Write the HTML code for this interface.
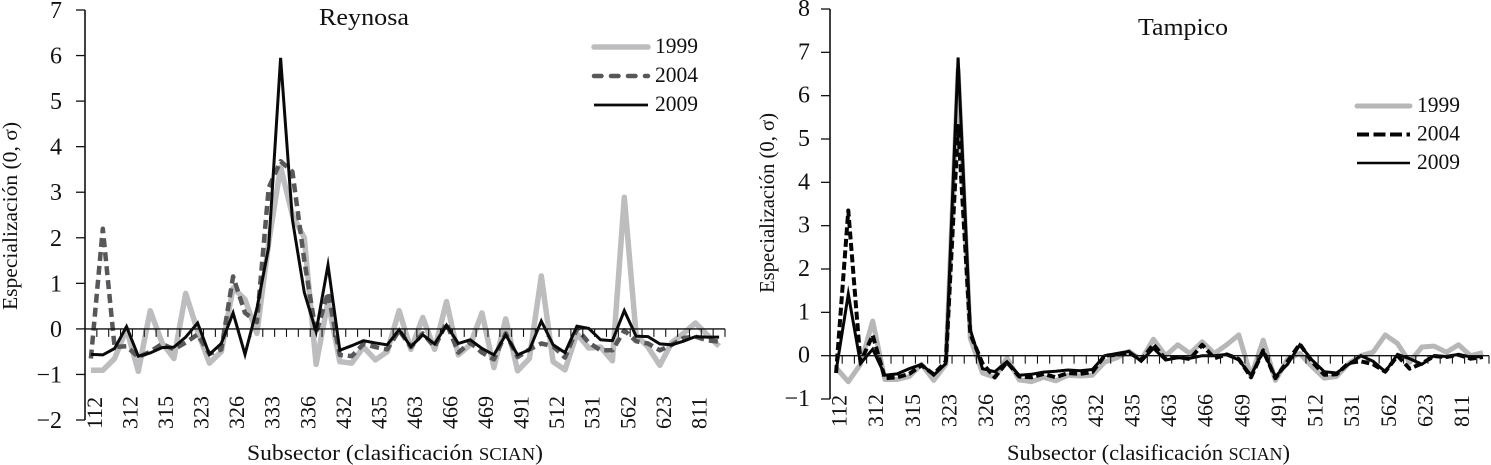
<!DOCTYPE html>
<html lang="es">
<head>
<meta charset="utf-8">
<title>Especialización: Reynosa y Tampico</title>
<style>
html,body{margin:0;padding:0;background:#fff;width:1491px;height:465px;overflow:hidden}
svg{display:block}
text{font-family:"Liberation Serif","DejaVu Serif",serif;fill:#111}
</style>
</head>
<body>
<svg id="fig" xmlns="http://www.w3.org/2000/svg" width="1491" height="465" viewBox="0 0 1491 465">
  <g id="chart-reynosa">
    <text x="319" y="25" font-size="24" textLength="90" lengthAdjust="spacingAndGlyphs">Reynosa</text>
    <text transform="translate(17,310) rotate(-90)" font-size="21" textLength="188" lengthAdjust="spacingAndGlyphs">Especialización (0, σ)</text>
    <text x="247" y="460" font-size="22" textLength="296" lengthAdjust="spacingAndGlyphs">Subsector (clasificación <tspan font-size="17.5">SCIAN</tspan>)</text>
  </g>
  <g id="chart-tampico">
    <text x="1138" y="35" font-size="24" textLength="90" lengthAdjust="spacingAndGlyphs">Tampico</text>
    <text transform="translate(774,293) rotate(-90)" font-size="21" textLength="180" lengthAdjust="spacingAndGlyphs">Especialización (0, σ)</text>
    <text x="1007" y="460" font-size="22" textLength="283" lengthAdjust="spacingAndGlyphs">Subsector (clasificación <tspan font-size="17.5">SCIAN</tspan>)</text>
  </g>
</svg>
<script>
var subsectorLabels = ["112","312","315","323","326","333","336","432","435","463","466","469","491","512","531","562","623","811"];
var seriesYears = ["1999","2004","2009"];

var reynosaYTicks = [7,6,5,4,3,2,1,0,-1,-2];
var reynosa1999 = [-0.91,-0.91,-0.65,0.0,-0.93,0.4,-0.3,-0.65,0.78,-0.05,-0.75,-0.5,0.9,0.65,-0.1,1.9,3.55,2.5,2.0,-0.78,0.6,-0.72,-0.75,-0.4,-0.68,-0.5,0.4,-0.45,0.25,-0.45,0.6,-0.57,-0.35,0.35,-0.85,0.22,-0.92,-0.65,1.16,-0.72,-0.9,-0.1,-0.42,-0.4,-0.7,2.89,-0.13,-0.4,-0.8,-0.3,-0.1,0.13,-0.13,-0.38];
var reynosa2004 = [-0.65,2.2,-0.4,-0.38,-0.62,-0.5,-0.33,-0.45,-0.3,-0.12,-0.55,-0.45,1.15,0.35,0.15,3.1,3.68,3.45,1.5,-0.1,0.8,-0.57,-0.6,-0.33,-0.4,-0.45,-0.03,-0.4,-0.1,-0.4,0.13,-0.52,-0.3,-0.52,-0.67,-0.1,-0.62,-0.45,-0.32,-0.38,-0.63,0.0,-0.3,-0.47,-0.47,-0.03,-0.27,-0.32,-0.47,-0.35,-0.2,-0.17,-0.25,-0.28];
var reynosa2009 = [-0.56,-0.57,-0.43,0.05,-0.6,-0.53,-0.41,-0.4,-0.18,0.13,-0.56,-0.32,0.35,-0.56,0.45,1.8,5.95,2.4,0.8,-0.06,1.4,-0.47,-0.37,-0.26,-0.31,-0.35,-0.02,-0.39,-0.13,-0.33,0.08,-0.32,-0.24,-0.43,-0.57,-0.13,-0.57,-0.46,0.17,-0.35,-0.52,0.06,0.01,-0.24,-0.26,0.4,-0.16,-0.17,-0.33,-0.35,-0.27,-0.17,-0.18,-0.18];

var tampicoYTicks = [8,7,6,5,4,3,2,1,0,-1];
var tampico1999 = [-0.28,-0.6,-0.2,0.8,-0.55,-0.55,-0.48,-0.2,-0.57,-0.2,6.6,0.4,-0.4,-0.5,-0.05,-0.56,-0.6,-0.5,-0.58,-0.45,-0.47,-0.45,-0.15,-0.05,0.1,-0.1,0.38,0.0,0.25,0.05,0.32,0.05,0.25,0.48,-0.48,0.36,-0.57,-0.08,0.05,-0.25,-0.52,-0.48,-0.18,0.0,0.08,0.48,0.28,-0.15,0.2,0.22,0.08,0.25,0.0,0.07];
var tampico2004 = [-0.4,3.35,-0.15,0.47,-0.52,-0.5,-0.42,-0.22,-0.43,-0.13,5.3,0.5,-0.18,-0.5,-0.15,-0.48,-0.5,-0.42,-0.5,-0.4,-0.42,-0.38,0.0,0.02,0.07,-0.1,0.26,-0.08,-0.03,-0.08,0.25,-0.06,0.03,-0.08,-0.5,0.12,-0.52,-0.13,0.27,-0.14,-0.44,-0.43,-0.17,-0.13,-0.2,-0.37,0.0,-0.3,-0.18,-0.01,-0.03,0.02,-0.07,-0.03];
var tampico2009 = [-0.35,1.42,-0.18,0.15,-0.45,-0.42,-0.3,-0.2,-0.45,-0.18,6.88,0.6,-0.3,-0.37,-0.14,-0.45,-0.43,-0.38,-0.36,-0.33,-0.35,-0.32,0.0,0.05,0.1,-0.13,0.17,-0.1,-0.05,-0.06,0.0,0.0,0.03,-0.1,-0.45,0.1,-0.48,-0.2,0.25,-0.1,-0.37,-0.4,-0.2,0.0,-0.13,-0.37,0.03,-0.07,-0.2,0.0,-0.02,0.03,-0.03,-0.02];

function addSvgNode(parent, tag, attrs, txt) {
  var el = document.createElementNS(parent.namespaceURI, tag);
  for (var k in attrs) el.setAttribute(k, attrs[k]);
  if (txt !== undefined) el.textContent = txt;
  parent.appendChild(el);
  return el;
}

function drawSpecChart(rootId, prefix, frame, yTicks, seriesList, styles, legend) {
  var root = document.getElementById(rootId);
  var yMax = yTicks[0];
  var yMin = yTicks[yTicks.length - 1];
  var n = seriesList[0].length;
  var band = (frame.right - frame.left) / n;
  function xScale(i) { return frame.left + (i + 0.5) * band; }
  function yScale(v) { return frame.top + (yMax - v) * (frame.bottom - frame.top) / (yMax - yMin); }

  seriesList.forEach(function (vals, s) {
    var st = styles[s];
    var pts = vals.map(function (v, i) { return xScale(i).toFixed(1) + ',' + yScale(v).toFixed(1); }).join(' ');
    var line = addSvgNode(root, 'polyline', {
      points: pts, fill: 'none', stroke: st.color, 'stroke-width': st.width,
      'stroke-linejoin': st.join, 'stroke-miterlimit': 8,
      'stroke-dasharray': st.dash || 'none', 'stroke-linecap': st.cap || 'butt'
    });
    
    
  });

  var yAxis = addSvgNode(root, 'line', {x1: frame.left, x2: frame.left, y1: frame.top, y2: frame.bottom, stroke: '#111', 'stroke-width': 1.6});
  
  
  yTicks.forEach(function (v) {
    var y = yScale(v);
    var tick = addSvgNode(root, 'line', {x1: frame.left - 9, x2: frame.left, y1: y, y2: y, stroke: '#111', 'stroke-width': 1.3});
    
    
    var label = addSvgNode(root, 'text', {x: frame.left - frame.yLabelGap, y: y + frame.yLabelDy, 'font-size': 24, 'text-anchor': 'end'}, v < 0 ? '\u2212' + (-v) : String(v));
    
    
  });

  var y0 = yScale(0);
  var xAxis = addSvgNode(root, 'line', {x1: frame.left, x2: frame.right, y1: y0, y2: y0, stroke: '#111', 'stroke-width': 1.4});
  
  
  for (var k = 1; k <= n; k++) {
    var tx = frame.left + k * band;
    var xTick = addSvgNode(root, 'line', {x1: tx, x2: tx, y1: y0, y2: y0 + 8, stroke: '#111', 'stroke-width': 1.1});
    
    
  }
  subsectorLabels.forEach(function (lab, j) {
    var x = xScale(j * 3) + frame.xLabelDx;
    var t = addSvgNode(root, 'text', {transform: 'translate(' + x.toFixed(1) + ',' + frame.xLabelBottom + ') rotate(-90)', 'font-size': 22}, lab);
    
    
  });

  seriesYears.forEach(function (yr, s) {
    var st = styles[s];
    var y = legend.y + s * legend.step;
    var key = addSvgNode(root, 'line', {
      x1: legend.x1, x2: legend.x2, y1: y, y2: y, stroke: st.color, 'stroke-width': st.legendWidth,
      'stroke-dasharray': st.legendDash || 'none', 'stroke-linecap': st.legendCap
    });
    
    
    var legendLabel = addSvgNode(root, 'text', {x: legend.x2 + 7, y: y + 6, 'font-size': 22, textLength: 43, lengthAdjust: 'spacingAndGlyphs'}, yr);
    
    
  });
}

drawSpecChart('chart-reynosa', 'reynosa',
  {left: 85, right: 725, top: 10, bottom: 420, yLabelGap: 23, yLabelDy: 8, xLabelDx: 11, xLabelBottom: 429},
  reynosaYTicks,
  [reynosa1999, reynosa2004, reynosa2009],
  [
    {color: '#bdbdc0', width: 5.5, join: 'round', legendWidth: 5.5, legendCap: 'round'},
    {color: '#58585a', width: 4.5, join: 'round', dash: '9 5', legendWidth: 4.5, legendDash: '7.5 9.5', legendCap: 'round'},
    {color: '#0a0a0a', width: 3, join: 'miter', legendWidth: 2.8, legendCap: 'butt'}
  ],
  {x1: 594, x2: 648, y: 47, step: 29}
);

drawSpecChart('chart-tampico', 'tampico',
  {left: 830, right: 1489, top: 9, bottom: 399, yLabelGap: 20, yLabelDy: 7, xLabelDx: 10.5, xLabelBottom: 427},
  tampicoYTicks,
  [tampico1999, tampico2004, tampico2009],
  [
    {color: '#b7b7b7', width: 5, join: 'round', legendWidth: 5, legendCap: 'round'},
    {color: '#050505', width: 4, join: 'round', dash: '8 3.5', legendWidth: 4, legendDash: '12 4.5', legendCap: 'butt'},
    {color: '#050505', width: 3, join: 'miter', legendWidth: 2.4, legendCap: 'butt'}
  ],
  {x1: 1357, x2: 1410, y: 106, step: 28.5}
);
</script>
</body>
</html>
